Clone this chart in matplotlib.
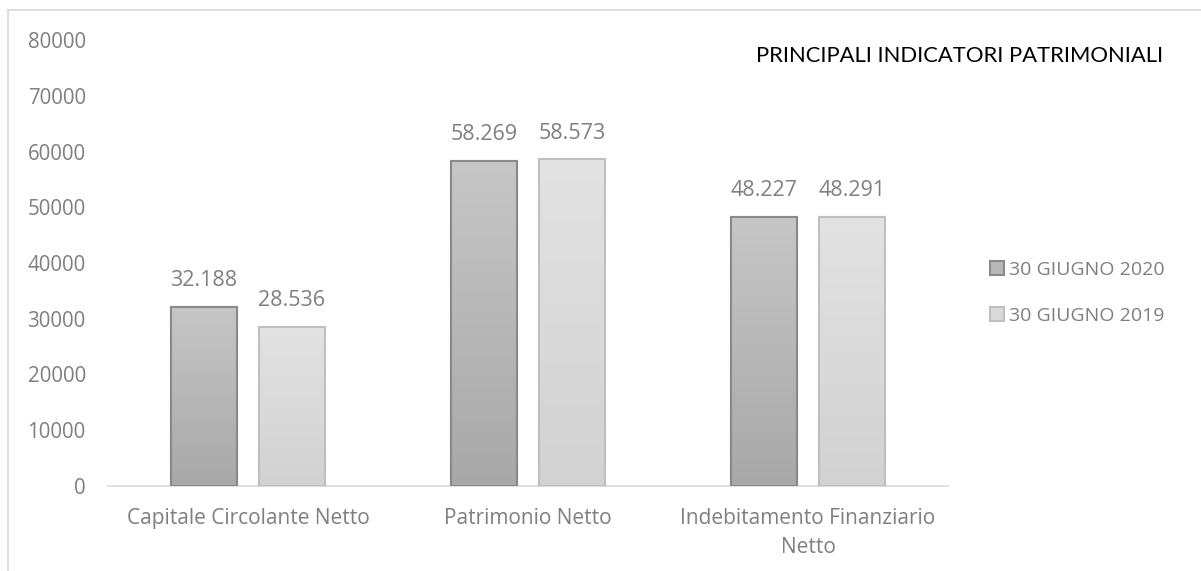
import matplotlib
matplotlib.use("Agg")
import matplotlib.pyplot as plt
import numpy as np
from matplotlib.lines import Line2D
from matplotlib.colors import LinearSegmentedColormap

categories = ["Capitale Circolante Netto", "Patrimonio Netto", "Indebitamento Finanziario\nNetto"]
series_names = ["30 GIUGNO 2020", "30 GIUGNO 2019"]
values_2020 = [32188, 58269, 48227]
values_2019 = [28536, 58573, 48291]
value_labels_2020 = ["32.188", "58.269", "48.227"]
value_labels_2019 = ["28.536", "58.573", "48.291"]
yticks = [0, 10000, 20000, 30000, 40000, 50000, 60000, 70000, 80000]
title = "PRINCIPALI INDICATORI PATRIMONIALI"

plt.rcParams['font.family'] = ['Open Sans', 'DejaVu Sans']
fig = plt.figure(figsize=(12.01, 5.71), dpi=100)
ax = fig.add_axes([108/1201, 1-486/571, 840/1201, (486-40)/571])

x = np.arange(len(categories))
w = 0.236
off = 0.157
grey_txt = '#7f7f7f'

styles = [
    dict(top='#c6c6c6', bottom='#a8a8a8', edge='#8a8a8a', face='#b8b8b8'),
    dict(top='#e2e2e2', bottom='#d2d2d2', edge='#bfbfbf', face='#dadada'),
]

handles = []
for s, (vals, labs, st) in enumerate(zip([values_2020, values_2019],
                                          [value_labels_2020, value_labels_2019], styles)):
    pos = x + (-off if s == 0 else off)
    bars = ax.bar(pos, vals, width=w, color=st['face'], edgecolor=st['edge'], linewidth=1.5, zorder=2)
    cmap = LinearSegmentedColormap.from_list('g', [st['bottom'], st['top']])
    for b in bars:
        x0, y0 = b.get_x(), b.get_y()
        bw, bh = b.get_width(), b.get_height()
        grad = np.linspace(0, 1, 256).reshape(-1, 1)
        im = ax.imshow(grad, extent=[x0, x0+bw, y0, y0+bh], origin='lower', cmap=cmap,
                       aspect='auto', zorder=2.5, interpolation='bicubic')
        im.set_clip_path(b)
        ax.add_patch(plt.Rectangle((x0, y0), bw, bh, fill=False, edgecolor=st['edge'],
                                   linewidth=1.5, zorder=3))
    for p, v, l in zip(pos, vals, labs):
        ax.text(p, v + 4700, l, ha='center', va='center', fontsize=15.5, color=grey_txt)
    handles.append(plt.Rectangle((0, 0), 1, 1, facecolor=st['face'], edgecolor=st['edge'], linewidth=1.5))

ax.set_xlim(-0.5, 2.5)
ax.set_ylim(0, 80000)
ax.set_yticks(yticks)
ax.set_yticklabels([str(t) for t in yticks])
ax.set_xticks(x)
ax.set_xticklabels(categories)
ax.tick_params(axis='y', length=0, pad=16, labelsize=14.8, labelcolor=grey_txt)
ax.tick_params(axis='x', length=0, pad=16, labelsize=15, labelcolor=grey_txt)
for lab in ax.get_xticklabels():
    lab.set_linespacing(1.5)
for sp in ['top', 'right', 'left']:
    ax.spines[sp].set_visible(False)
ax.spines['bottom'].set_color('#d9d9d9')
ax.spines['bottom'].set_linewidth(1.2)

fig.text(1163/1201, 1-56/571, title, ha='right', va='center', fontsize=15.8, color='black',
         family=['Lato', 'Open Sans', 'DejaVu Sans'])

fig.legend(handles, series_names, loc='center left', bbox_to_anchor=(972/1201, 1-293/571),
           frameon=False, fontsize=14, labelcolor=grey_txt, handlelength=0.75, handleheight=0.75,
           handletextpad=0.25, labelspacing=1.45)

fig.add_artist(Line2D([8/1201, 8/1201], [0, 1-10/571], transform=fig.transFigure, color='#d9d9d9', lw=1.2))
fig.add_artist(Line2D([8/1201, 1], [1-10/571, 1-10/571], transform=fig.transFigure, color='#d9d9d9', lw=1.2))

fig.savefig('out.png', dpi=100)
